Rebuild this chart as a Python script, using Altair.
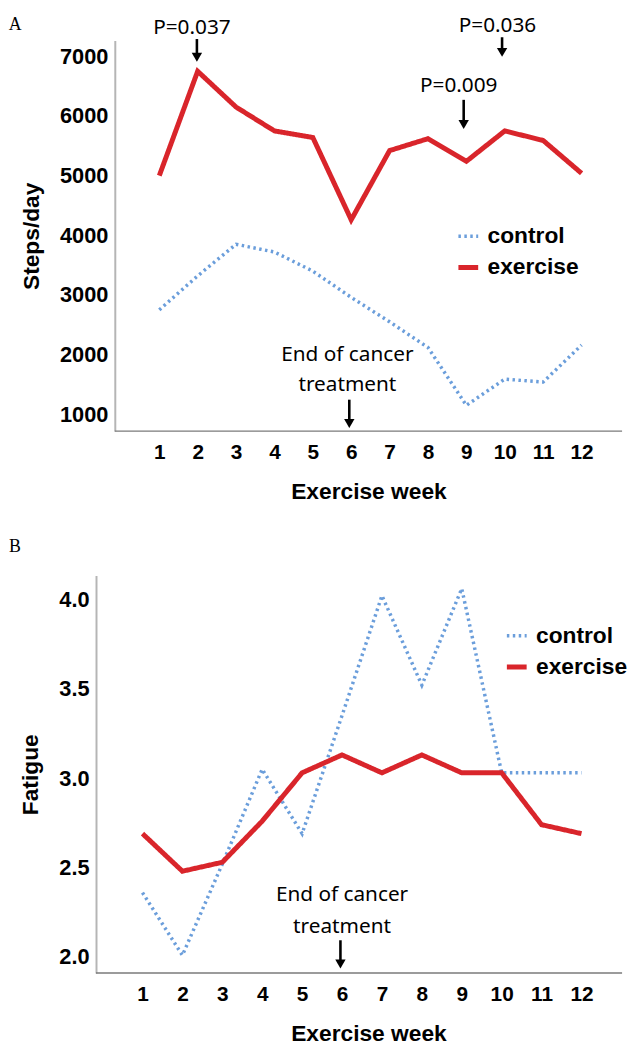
import altair as alt
import pandas as pd

# ---------------- data ----------------
weeks = list(range(1, 13))
groups = ["control", "exercise"]

steps_control = [2750, 3320, 3850, 3720, 3400, 2960, 2550, 2120, 1150, 1590, 1540, 2160]
steps_exercise = [5000, 6750, 6150, 5750, 5640, 4260, 5420, 5620, 5240, 5750, 5590, 5040]

fatigue_control = [2.36, 2.01, 2.52, 3.05, 2.69, 3.35, 4.02, 3.52, 4.06, 3.03, 3.03, 3.03]
fatigue_exercise = [2.69, 2.48, 2.53, 2.76, 3.03, 3.13, 3.03, 3.13, 3.03, 3.03, 2.74, 2.69]

steps_ticks = [1000, 2000, 3000, 4000, 5000, 6000, 7000]
fatigue_ticks = [2.0, 2.5, 3.0, 3.5, 4.0]

# annotations (data coordinates)
top_note_text = ["P=0.037", "P=0.036", "P=0.009", "End of cancer", "treatment"]
top_note_x = [1.85, 9.81, 8.80, 5.9, 5.9]
top_note_y = [7480, 7515, 6502, 1992, 1494]
top_arrow_x = [1.98, 9.93, 8.93, 5.95]
top_arrow_from = [7290, 7320, 6271, 1245]
top_arrow_to = [6884, 6967, 5757, 748]

bot_note_text = ["End of cancer", "treatment"]
bot_note_x = [6.0, 6.0]
bot_note_y = [2.344, 2.167]
bot_arrow_x = [5.96]
bot_arrow_from = [2.094]
bot_arrow_to = [1.928]

panel_label_top = ("A", -2.92, 7530)
panel_label_bot = ("B", -2.345, 4.294)

BLUE = "#6B9EDB"
RED = "#D9252B"
BOLD_FONT = "Liberation Sans"
NOTE_FONT = "Noto Sans"


def build_panel(ctrl, exer, ytitle, ydomain, yticks, yfmt, xdomain, w, h,
                legend_xy, notes, arrows, panel_label, y_title_pad, y_offset,
                x_line):
    df = pd.DataFrame({
        "week": weeks * 2,
        "value": ctrl + exer,
        "group": ["control"] * len(weeks) + ["exercise"] * len(weeks),
    })
    xscale = alt.Scale(domain=xdomain, nice=False, zero=False)
    yscale = alt.Scale(domain=ydomain, nice=False, zero=False)
    xaxis = alt.Axis(values=weeks, format="d", ticks=False, tickSize=0, grid=False,
                     domain=False,
                     labelFont=BOLD_FONT, labelFontSize=21, labelFontWeight="bold",
                     labelColor="black", labelPadding=11,
                     titleFont=BOLD_FONT, titleFontSize=23, titleFontWeight="bold",
                     titleColor="black", titlePadding=18, title="Exercise week")
    yaxis = alt.Axis(values=yticks, format=yfmt, ticks=False, tickSize=0, grid=False,
                     domainColor="#b5b5b5", domainWidth=2, offset=y_offset,
                     labelFont=BOLD_FONT, labelFontSize=22, labelFontWeight="bold",
                     labelColor="black", labelPadding=7,
                     titleFont=BOLD_FONT, titleFontSize=23, titleFontWeight="bold",
                     titleColor="black", titlePadding=y_title_pad, title=ytitle)

    leg = dict(title=None, orient="none", legendX=legend_xy[0], legendY=legend_xy[1],
               symbolType="stroke", symbolSize=400, labelFont=BOLD_FONT,
               labelFontSize=23, labelFontWeight="bold", labelColor="black",
               labelOffset=7, rowPadding=7, padding=0)

    lines = alt.Chart(df).mark_line(strokeCap="butt", strokeJoin="miter").encode(
        x=alt.X("week:Q", scale=xscale, axis=xaxis),
        y=alt.Y("value:Q", scale=yscale, axis=yaxis),
        color=alt.Color("group:N", scale=alt.Scale(domain=groups, range=[BLUE, RED]),
                        legend=alt.Legend(**leg)),
        strokeDash=alt.StrokeDash("group:N",
                                  scale=alt.Scale(domain=groups, range=[[2.5, 3.5], [1, 0]]),
                                  legend=alt.Legend(**leg)),
        strokeWidth=alt.StrokeWidth("group:N",
                                    scale=alt.Scale(domain=groups, range=[3.5, 5]),
                                    legend=alt.Legend(**leg)),
    )

    # x-axis baseline, drawn in data coordinates along the bottom of the y domain
    bdf = pd.DataFrame({"x1": [x_line[0]], "x2": [x_line[1]], "y": [ydomain[0]]})
    baseline = alt.Chart(bdf).mark_rule(color="#7a7a7a", strokeWidth=1.5).encode(
        x=alt.X("x1:Q", scale=xscale), x2="x2:Q", y=alt.Y("y:Q", scale=yscale))

    ndf = pd.DataFrame({"x": notes[0], "y": notes[1], "t": notes[2]})
    note_layer = alt.Chart(ndf).mark_text(font=NOTE_FONT, fontSize=21, color="black",
                                          align="center", baseline="middle").encode(
        x=alt.X("x:Q", scale=xscale), y=alt.Y("y:Q", scale=yscale), text="t:N")

    adf = pd.DataFrame({"x": arrows[0], "y1": arrows[1], "y2": arrows[2]})
    stems = alt.Chart(adf).mark_rule(color="black", strokeWidth=2.6, y2Offset=-6).encode(
        x=alt.X("x:Q", scale=xscale), y=alt.Y("y1:Q", scale=yscale), y2="y2:Q")
    heads = alt.Chart(adf).mark_point(shape="triangle-down", size=110, filled=True,
                                      color="black", opacity=1, yOffset=-6).encode(
        x=alt.X("x:Q", scale=xscale), y=alt.Y("y2:Q", scale=yscale))

    pdf = pd.DataFrame({"x": [panel_label[1]], "y": [panel_label[2]], "t": [panel_label[0]]})
    plabel = alt.Chart(pdf).mark_text(font="Liberation Serif", fontSize=18, color="black",
                                      align="left", baseline="middle").encode(
        x=alt.X("x:Q", scale=xscale), y=alt.Y("y:Q", scale=yscale), text="t:N")

    return alt.layer(baseline, lines, note_layer, stems, heads, plabel).properties(
        width=w, height=h)


top = build_panel(
    steps_control, steps_exercise, "Steps/day", [718, 7265], steps_ticks, "d",
    [-0.159, 13.056], 513, 395, (345, 186),
    (top_note_x, top_note_y, top_note_text),
    (top_arrow_x, top_arrow_from, top_arrow_to), panel_label_top, 16, 0,
    (-0.159, 13.056))

bottom = build_panel(
    fatigue_control, fatigue_exercise, "Fatigue", [1.911, 4.133], fatigue_ticks, ".1f",
    [0.306, 13.017], 513, 402, (394, 49),
    (bot_note_x, bot_note_y, bot_note_text),
    (bot_arrow_x, bot_arrow_from, bot_arrow_to), panel_label_bot, 17, 19,
    (-0.165, 13.017))

chart = alt.vconcat(top, bottom).properties(
    spacing=34,
    padding={"left": 0, "top": 0, "right": 0, "bottom": 2},
).resolve_scale(
    color="independent", strokeDash="independent", strokeWidth="independent"
).resolve_legend(
    color="independent", strokeDash="independent", strokeWidth="independent"
).configure(background="white").configure_view(strokeOpacity=0, stroke="transparent")

chart.save("out.html", embed_options={"renderer": "svg", "actions": False})
